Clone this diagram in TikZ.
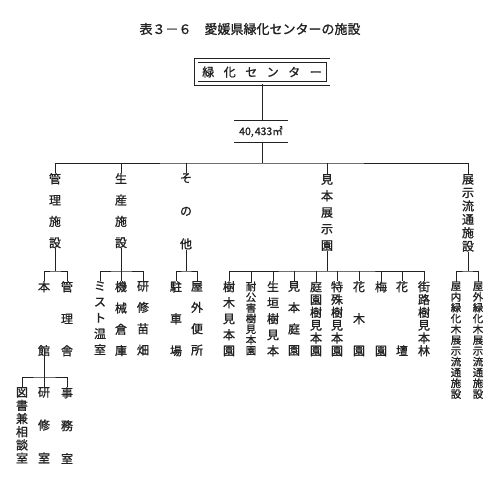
\documentclass[tikz,border=0pt]{standalone}
\usepackage{fontspec}
\setmainfont{Noto Sans CJK JP}[BoldFont={Noto Sans CJK JP}, BoldFeatures={FakeBold=1.2}]
\usetikzlibrary{calc}
\definecolor{ink}{HTML}{222222}
\newcommand\vfnt[2]{\fontsize{#1pt}{#2pt}\selectfont\bfseries\lineskiplimit=-30pt\relax\lineskip=0pt\relax}
\tikzset{
  ln/.style={draw=ink, line width=0.9pt},
  vlab/.style={anchor=north, inner sep=0pt, align=center, text=ink},
}
\begin{document}
\begin{tikzpicture}[x=1pt,y=-1pt]
\useasboundingbox (0,0) rectangle (500,480);
% title
\node (title) at (250,29) [text=ink, font=\fontsize{13pt}{15pt}\selectfont\bfseries] {表３－６　愛媛県緑化センターの施設};
% center box
\node (ctr) at (262,72) [draw=ink, line width=0.9pt, double=white, double distance=3pt,
   minimum width=132, minimum height=23, inner sep=0pt, text=ink, font=\fontsize{12pt}{14pt}\selectfont\bfseries]
   {緑\hspace{9.5pt}化\hspace{9.5pt}セ\hspace{9.5pt}ン\hspace{9.5pt}タ\hspace{9.5pt}ー};
% area
\node (area) at (261,131.5) [minimum width=54, minimum height=21, inner sep=0pt, text=ink,
   font=\fontsize{10.5pt}{12pt}\selectfont\bfseries] {40,\hspace{1pt}433㎡};
\draw[ln] (area.north west) -- (area.north east);
\draw[ln] (area.south west) -- (area.south east);
\draw[ln] (ctr.south) -- (ctr.south |- area.north);
\coordinate (mb) at (262,163);
\draw[ln] (area.south -| mb) -- (mb);

% top level
\node[vlab, font=\vfnt{12}{21.3}] (kanri)  at (55,173)  {管\\理\\施\\設};
\node[vlab, font=\vfnt{12}{21.3}] (seisan) at (121,173) {生\\産\\施\\設};
\node[vlab, font=\vfnt{12}{33}]   (sonota) at (186,173) {そ\\の\\他};
\node[vlab, font=\vfnt{12}{16.5}] (mihon)  at (327,174) {見\\本\\展\\示\\園};
\node[vlab, font=\vfnt{12}{13.4}] (tenji)  at (468,174) {展\\示\\流\\通\\施\\設};

\draw[ln] (kanri.north) |- (mb) -| (tenji.north);
\draw[ln] (seisan.north) -- (seisan.north |- mb);
\draw[ln] (sonota.north) -- (sonota.north |- mb);
\draw[ln] (mihon.north) -- (mihon.north |- mb);

% second level
\node[vlab, font=\vfnt{12}{64}]   (honkan)   at (44,281)  {本\\館};
\node[vlab, font=\vfnt{12}{32}]   (kanrisha) at (67,281)  {管\\理\\舎};
\node[vlab, font=\vfnt{12}{16}]   (mist)     at (100,281) {ミ\\ス\\ト\\温\\室};
\node[vlab, font=\vfnt{12}{21.3}] (kikai)    at (121,281) {機\\械\\倉\\庫};
\node[vlab, font=\vfnt{12}{21.3}] (kenshu)   at (143,281) {研\\修\\苗\\畑};
\node[vlab, font=\vfnt{12}{32}]   (chusha)   at (176,281) {駐\\車\\場};
\node[vlab, font=\vfnt{12}{21.3}] (okugai)   at (197,281) {屋\\外\\便\\所};
\node[vlab, font=\vfnt{12}{16}]   (m1)  at (229,281) {樹\\木\\見\\本\\園};
\node[vlab, font=\vfnt{10.5}{10.67}] (m2) at (251,281.5) {耐\\公\\害\\樹\\見\\本\\園};
\node[vlab, font=\vfnt{12}{16}]   (m3)  at (273,281) {生\\垣\\樹\\見\\本};
\node[vlab, font=\vfnt{12}{21.3}] (m4)  at (294,281) {見\\本\\庭\\園};
\node[vlab, font=\vfnt{12}{12.8}] (m5)  at (316,281) {庭\\園\\樹\\見\\本\\園};
\node[vlab, font=\vfnt{12}{12.8}] (m6)  at (337,281) {特\\殊\\樹\\見\\本\\園};
\node[vlab, font=\vfnt{12}{32}]   (m7)  at (359,281) {花\\木\\園};
\node[vlab, font=\vfnt{12}{64}]   (m8)  at (381,281) {梅\\園};
\node[vlab, font=\vfnt{12}{64}]   (m9)  at (402,281) {花\\壇};
\node[vlab, font=\vfnt{12}{12.8}] (m10) at (424,281) {街\\路\\樹\\見\\本\\林};
\node[vlab, font=\vfnt{10.5}{10.8}] (t1) at (456,281.5) {屋\\内\\緑\\化\\木\\展\\示\\流\\通\\施\\設};
\node[vlab, font=\vfnt{10.5}{10.8}] (t2) at (478,281.5) {屋\\外\\緑\\化\\木\\展\\示\\流\\通\\施\\設};

\coordinate (bk) at (55,271);
\coordinate (bs) at (121,271);
\coordinate (bo) at (186,271);
\coordinate (bm) at (327,271);
\coordinate (bt) at (468,271);

\draw[ln] (kanri.south) -- (bk);
\draw[ln] (honkan.north) |- (bk) -| (kanrisha.north);
\draw[ln] (seisan.south) -- (bs);
\draw[ln] (mist.north) |- (bs) -| (kenshu.north);
\draw[ln] (kikai.north) -- (kikai.north |- bs);
\draw[ln] (sonota.south) -- (bo);
\draw[ln] (chusha.north) |- (bo) -| (okugai.north);
\draw[ln] (mihon.south) -- (bm);
\draw[ln] (m1.north) |- (bm) -| (m10.north);
\foreach \n in {m2,m3,m4,m5,m6,m7,m8,m9}
  \draw[ln] (\n.north) -- (\n.north |- bm);
\draw[ln] (tenji.south) -- (bt);
\draw[ln] (t1.north) |- (bt) -| (t2.north);

% third level
\node[vlab, font=\vfnt{12}{13.2}] (tosho) at (22,387) {図\\書\\兼\\相\\談\\室};
\node[vlab, font=\vfnt{12}{33}]   (kenshitsu) at (44,387) {研\\修\\室};
\node[vlab, font=\vfnt{12}{33}]   (jimu)  at (67,387) {事\\務\\室};
\coordinate (bh) at (44,377);
\draw[ln] (honkan.south) -- (bh);
\draw[ln] (tosho.north) |- (bh) -| (jimu.north);
\draw[ln] (kenshitsu.north) -- (kenshitsu.north |- bh);
\end{tikzpicture}
\end{document}
